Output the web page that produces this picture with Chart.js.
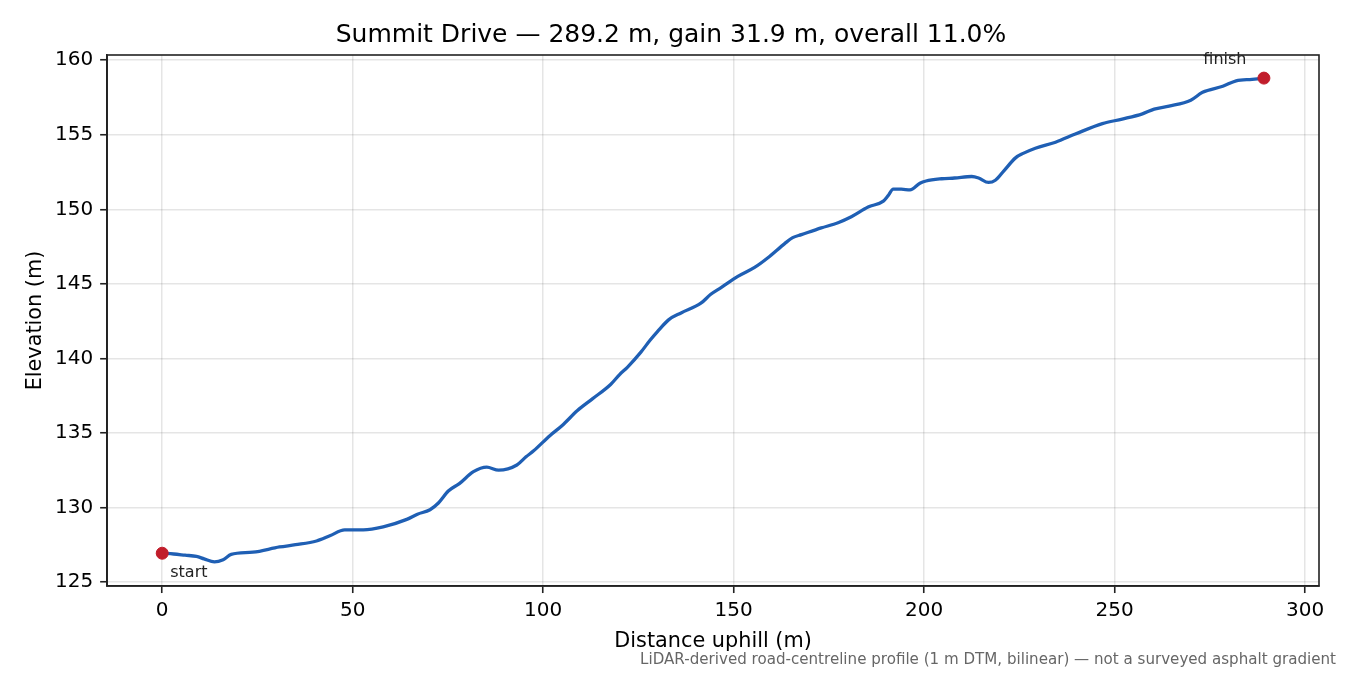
<!DOCTYPE html>
<html>
<head>
<meta charset="utf-8">
<script src="https://cdn.jsdelivr.net/npm/chart.js@4"></script>
<style>
  html, body { margin: 0; padding: 0; background: #fff; }
  #wrap { width: 1350px; height: 675px; }
</style>
</head>
<body>
<div id="wrap"><canvas id="profile" width="1350" height="675"></canvas></div>
<script>
// distance along the road (m) and elevation (m)
const distance = [0, 3, 6, 9, 11, 13.7, 16, 18.1, 23.8, 30.8, 35, 40.5, 44, 47.9, 52.8, 58, 64.2, 67, 70.3, 72.5,
  75.1, 78, 81.7, 85.2, 88.3, 93.1, 95.5, 97.5, 101.9, 105, 109, 113, 117.7, 120, 122.1, 125.6, 128, 130, 133, 136.2,
  141.4, 144, 146.7, 151.1, 155.5, 159, 163.4, 165.5, 167.8, 173, 177.4, 180.9, 185.3, 189.3, 190.5, 191.9, 194, 196.3,
  198.9, 200.5, 204.6, 208, 212.5, 214.3, 216.9, 218.7, 221, 224, 226, 229.2, 234.5, 239.7, 246.8, 252, 257.3, 260.4,
  264.3, 270, 273.1, 278.4, 281.9, 286.1, 289.2];
const elevation = [126.93, 126.88, 126.8, 126.72, 126.55, 126.35, 126.5, 126.85, 127.0, 127.35, 127.5, 127.75, 128.1,
  128.5, 128.5, 128.7, 129.2, 129.55, 129.85, 130.3, 131.1, 131.6, 132.4, 132.7, 132.5, 132.85, 133.4, 133.8, 134.85,
  135.5, 136.5, 137.3, 138.25, 138.9, 139.4, 140.4, 141.2, 141.8, 142.6, 143.05, 143.7, 144.3, 144.75, 145.5, 146.1,
  146.75, 147.7, 148.1, 148.3, 148.75, 149.1, 149.5, 150.15, 150.55, 150.9, 151.35, 151.35, 151.3, 151.75, 151.9,
  152.05, 152.1, 152.2, 152.1, 151.8, 151.95, 152.6, 153.45, 153.75, 154.1, 154.5, 155.05, 155.75, 156.05, 156.4,
  156.72, 156.92, 157.32, 157.85, 158.25, 158.62, 158.72, 158.8];

// end points
const endLabels = ['start', 'finish'];
const endDistance = [0, 289.2];
const endElevation = [126.93, 158.8];

// axis ticks
const xTickValues = [0, 50, 100, 150, 200, 250, 300];
const yTickValues = [125, 130, 135, 140, 145, 150, 155, 160];

const titleText = 'Summit Drive \u2014 289.2 m, gain 31.9 m, overall 11.0%';
const noteText = 'LiDAR-derived road-centreline profile (1 m DTM, bilinear) \u2014 not a surveyed asphalt gradient';

const FONT = "'DejaVu Sans', 'Liberation Sans', sans-serif";

// box round the plot + start/finish text + footnote
const extrasPlugin = {
    id: 'extras',
    afterDraw(chart) {
        const ctx = chart.ctx;
        const a = chart.chartArea;
        ctx.save();
        ctx.strokeStyle = '#222';
        ctx.lineWidth = 1.6;
        ctx.strokeRect(a.left, a.top, a.right - a.left, a.bottom - a.top);

        const meta = chart.getDatasetMeta(1);
        ctx.font = '16px ' + FONT;
        ctx.fillStyle = '#222';
        ctx.textBaseline = 'middle';
        const p0 = meta.data[0], p1 = meta.data[1];
        ctx.textAlign = 'left';
        ctx.fillText(endLabels[0], p0.x + 8, p0.y + 20);
        ctx.textAlign = 'center';
        ctx.fillText(endLabels[1], p1.x - 39, p1.y - 18);

        ctx.font = '15.1px ' + FONT;
        ctx.fillStyle = '#666';
        ctx.textAlign = 'right';
        ctx.fillText(noteText, 1336, 660);
        ctx.restore();
    }
};

const ctx = document.getElementById('profile').getContext('2d');
const profileChart = new Chart(ctx, {
    type: 'line',
    data: {
        datasets: [{
            label: 'Elevation',
            data: distance.map((d, i) => ({ x: d, y: elevation[i] })),
            borderColor: '#1f5fb4',
            borderWidth: 3.3,
            pointRadius: 0,
            fill: false,
            cubicInterpolationMode: 'monotone',
            order: 1
        }, {
            label: 'Ends',
            type: 'scatter',
            data: endDistance.map((d, i) => ({ x: d, y: endElevation[i] })),
            backgroundColor: '#c11d2b',
            borderColor: '#c11d2b',
            pointRadius: 6,
            showLine: false,
            order: 0
        }]
    },
    options: {
        responsive: false,
        animation: false,
        devicePixelRatio: 1,
        layout: { padding: { left: 23, right: 31, top: 0, bottom: 21 } },
        plugins: {
            legend: { display: false },
            tooltip: { enabled: false },
            title: {
                display: true,
                text: titleText,
                color: '#000',
                font: { family: FONT, size: 25, weight: 'normal' },
                padding: { top: 20, bottom: 5 }
            }
        },
        scales: {
            x: {
                type: 'linear',
                min: -14.46,
                max: 303.66,
                afterBuildTicks: s => { s.ticks = xTickValues.map(v => ({ value: v })); },
                ticks: { color: '#000', font: { family: FONT, size: 20 }, padding: 6, maxRotation: 0 },
                grid: { color: 'rgba(0,0,0,0.1)', lineWidth: 1.5, tickColor: '#222', tickWidth: 1.6, tickLength: 7 },
                border: { color: '#222', width: 1.6 },
                title: { display: true, text: 'Distance uphill (m)', color: '#000',
                         font: { family: FONT, size: 20.8 }, padding: { top: 0, bottom: 0 } }
            },
            y: {
                type: 'linear',
                min: 124.73,
                max: 160.35,
                afterBuildTicks: s => { s.ticks = yTickValues.map(v => ({ value: v })); },
                ticks: { color: '#000', font: { family: FONT, size: 20 }, padding: 7 },
                grid: { color: 'rgba(0,0,0,0.1)', lineWidth: 1.5, tickColor: '#222', tickWidth: 1.6, tickLength: 7 },
                border: { color: '#222', width: 1.6 },
                title: { display: true, text: 'Elevation (m)', color: '#000',
                         font: { family: FONT, size: 20.8 }, padding: { top: 0, bottom: 0 } }
            }
        }
    },
    plugins: [extrasPlugin]
});
</script>
</body>
</html>
